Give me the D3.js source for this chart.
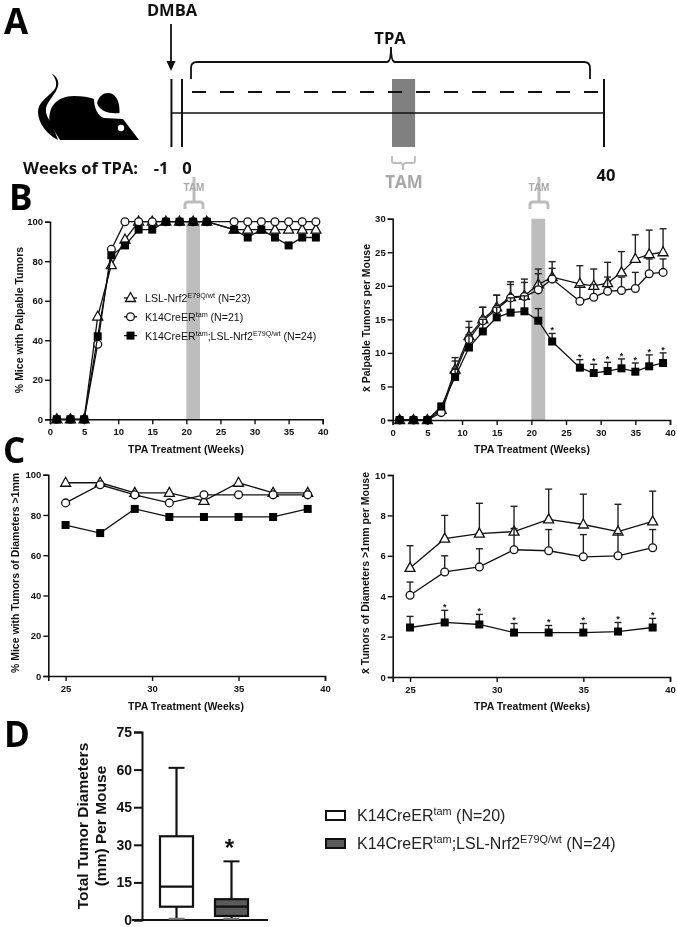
<!DOCTYPE html>
<html><head><meta charset="utf-8">
<style>
html,body{margin:0;padding:0;background:#fff}
svg{display:block;filter:blur(0.3px)}
text{font-family:"Liberation Sans",Arial,sans-serif;fill:#111}
</style>
<script src="https://cdn.jsdelivr.net/npm/d3@7"></script>
</head><body><svg id="c" width="677" height="927"></svg>
<script>
const weeksB=[1,3,5,7,9,11,13,15,17,19,21,23,27,29,31,33,35,37,39];
const weeksC=[25,27,29,31,33,35,37,39];
const pctTri=[0,0,0,52,78,91,100,100,100,100,100,100,96,96,96,96,96,96,96];
const pctCirc=[0,0,0,38,86,100,100,100,100,100,100,100,100,100,100,100,100,100,100];
const pctSq=[0,0,0,42,83,88,96,96,100,100,100,100,96,92,96,92,88,92,92];
const numTri=[0,0,0,1.5,7.5,12.5,15,16.8,18.3,18.5,20.2,21.3,20.3,20,20.4,22,24,24.7,25];
const numTriUp=[0,0,0,1.8,9.3,14.7,16.8,18.6,20.6,21,22.5,23.6,23,22.5,23.5,25.1,27.6,28.3,28.5];
const numCirc=[0,0,0,1.1,7,12,14.8,16.5,18.2,18.4,19.4,21,17.7,18.3,19.2,19.3,19.6,21.8,22];
const numCircUp=[0,0,0,1.3,8.8,13.8,16.8,18.6,20.2,20.5,21.8,22.6,20,20.2,21.3,21.3,22,24,24];
const numSq=[0,0,0,2,6.4,10.8,13.2,15.3,16,16.2,14.8,11.7,7.8,7,7.3,7.7,7.2,8,8.5];
const numSqUp=[0,0,0,2.5,7.7,12.7,15,16.8,18.2,18.5,16.6,12.9,9,8.3,8.6,9.1,8.5,9.7,10];
const numStarWeeks=[23,27,29,31,33,35,37,39];
const largePctTri=[96,96,91,91,87,96,91,91];
const largePctCirc=[86,95,90,86,90,90,90,90];
const largePctSq=[75,71,83,79,79,79,79,83];
const largeTri=[5.4,6.85,7.1,7.2,7.8,7.55,7.2,7.7];
const largeTriUp=[6.5,8,8.6,8.45,9.3,9.05,8.55,9.2];
const largeCirc=[4.05,5.2,5.45,6.3,6.25,5.95,6,6.4];
const largeCircUp=[4.7,6,6.35,7.35,7.3,7.05,7.1,7.3];
const largeSq=[2.45,2.7,2.6,2.2,2.2,2.2,2.25,2.45];
const largeSqUp=[3,3.3,3.1,2.65,2.55,2.65,2.7,2.9];
const largeStarWeeks=[27,29,31,33,35,37,39];
const tamWeeks=[20,22];
const timelineWeeks=[-1,0,40];
const boxStats=[
 {lo:0.5,q1:5.3,med:13.3,q3:33.4,hi:60.7},
 {lo:0.5,q1:1.6,med:5.3,q3:8.3,hi:23.4}];
const boxFill=["#fff","#5a5a5a"];
const boxLegend=[["K14CreER","tam"," (N=20)"],["K14CreER","tam",";LSL-Nrf2","E79Q/wt"," (N=24)"]];
const lineLegend=[
 {k:"tri",parts:["LSL-Nrf2","E79Q/wt"," (N=23)"]},
 {k:"circ",parts:["K14CreER","tam"," (N=21)"]},
 {k:"sq",parts:["K14CreER","tam",";LSL-Nrf2","E79Q/wt"," (N=24)"]}];

const svg=d3.select("#c");
const GREY="#bdbdbd";
function rich(sel,parts,size){ // odd indices are superscripts
  parts.forEach((p,i)=>{
    const sup=i%2===1;
    sel.append("tspan").text(p).attr("font-size",sup?size*0.68:size).attr("dy",sup?-size*0.38:(i?size*0.38:0));
  });
}
function marker(g,k,x,y){
  if(k==="tri") g.append("path").attr("d",`M${x},${y-5.5}L${x+5},${y+3.5}L${x-5},${y+3.5}Z`).attr("fill","#fff").attr("stroke","#111").attr("stroke-width",1.3);
  if(k==="circ") g.append("circle").attr("cx",x).attr("cy",y).attr("r",3.9).attr("fill","#fff").attr("stroke","#111").attr("stroke-width",1.3);
  if(k==="sq") g.append("rect").attr("x",x-4).attr("y",y-4).attr("width",8).attr("height",8).attr("fill","#000");
}
function panel(o){
  const x=d3.scaleLinear().domain(o.xd).range(o.xr), y=d3.scaleLinear().domain(o.yd).range(o.yr);
  const g=svg.append("g");
  if(o.band) g.append("rect").attr("x",x(tamWeeks[0])).attr("width",x(tamWeeks[1])-x(tamWeeks[0]))
     .attr("y",y(o.yd[1])).attr("height",y(0)-y(o.yd[1])).attr("fill",GREY);
  const ax=g.append("g").attr("transform",`translate(0,${y(0)})`).call(d3.axisBottom(x).tickValues(o.xt).tickSize(5).tickPadding(4).tickFormat(d3.format("d")));
  const ay=g.append("g").attr("transform",`translate(${o.xr[0]},0)`).call(d3.axisLeft(y).tickValues(o.yt).tickSize(5).tickPadding(2).tickFormat(d3.format("d")));
  [ax,ay].forEach(a=>{a.selectAll("path").attr("stroke","#111").attr("stroke-width",1.6);a.selectAll("line").attr("stroke","#111").attr("stroke-width",1.4);
    a.selectAll("text").attr("font-family",'"Liberation Sans"').attr("font-size",9.5).attr("font-weight","bold").attr("fill","#222");});
  o.series.forEach(s=>{
    const pts=o.weeks.map((w,i)=>({w,v:s.v[i],u:s.u?s.u[i]:null}));
    if(s.u) pts.filter(d=>d.u>d.v).forEach(d=>{
      g.append("line").attr("x1",x(d.w)).attr("x2",x(d.w)).attr("y1",y(d.v)).attr("y2",y(d.u)).attr("stroke","#222").attr("stroke-width",1.4);
      g.append("line").attr("x1",x(d.w)-3.5).attr("x2",x(d.w)+3.5).attr("y1",y(d.u)).attr("y2",y(d.u)).attr("stroke","#222").attr("stroke-width",1.4);
    });
    g.append("path").attr("d",d3.line().x(d=>x(d.w)).y(d=>y(d.v))(pts)).attr("fill","none").attr("stroke","#111").attr("stroke-width",1.3);
    pts.forEach(d=>marker(g,s.k,x(d.w),y(d.v)));
    if(s.stars) s.stars.forEach(w=>{
      const i=o.weeks.indexOf(w);
      g.append("text").attr("x",x(w)).attr("y",y(s.u[i])).attr("text-anchor","middle").attr("font-size",9).attr("font-weight","bold").text("*");
    });
  });
  g.append("text").attr("x",o.xtitle[0]).attr("y",o.xtitle[1]).attr("text-anchor","middle").attr("font-size",10.5).attr("font-weight","bold").attr("fill","#222").text("TPA Treatment (Weeks)");
  g.append("text").attr("transform",`translate(${o.ytitle[0]},${o.ytitle[1]}) rotate(-90)`).attr("text-anchor","middle").attr("font-size",10.5).attr("font-weight","bold").attr("fill","#222").text(o.ytext);
  return {x,y,g};
}
const xB=[0,5,10,15,20,25,30,35,40], xC=[25,30,35,40];
panel({xd:[0,40],xr:[50,322.7],yd:[0,100],yr:[419.3,221.7],xt:xB,yt:[0,20,40,60,80,100],weeks:weeksB,band:true,
  series:[{k:"tri",v:pctTri},{k:"circ",v:pctCirc},{k:"sq",v:pctSq}],
  xtitle:[186,453],ytitle:[23,320],ytext:"% Mice with Palpable Tumors"});
panel({xd:[0,40],xr:[392.7,670],yd:[0,30],yr:[420,218.7],xt:xB,yt:[0,5,10,15,20,25,30],weeks:weeksB,band:true,
  series:[{k:"tri",v:numTri,u:numTriUp},{k:"circ",v:numCirc,u:numCircUp},{k:"sq",v:numSq,u:numSqUp,stars:numStarWeeks}],
  xtitle:[532,453],ytitle:[370,318],ytext:"x̄ Palpable Tumors per Mouse"});
panel({xd:[24,40],xr:[48.3,325],yd:[0,100],yr:[676,474.7],xt:xC,yt:[0,20,40,60,80,100],weeks:weeksC,
  series:[{k:"tri",v:largePctTri},{k:"circ",v:largePctCirc},{k:"sq",v:largePctSq}],
  xtitle:[186,710],ytitle:[19,573],ytext:"% Mice with Tumors of Diameters >1mm"});
panel({xd:[24,40],xr:[392.7,670],yd:[0,10],yr:[677,475],xt:xC,yt:[0,2,4,6,8,10],weeks:weeksC,
  series:[{k:"tri",v:largeTri,u:largeTriUp},{k:"circ",v:largeCirc,u:largeCircUp},{k:"sq",v:largeSq,u:largeSqUp,stars:largeStarWeeks}],
  xtitle:[532,710],ytitle:[369,573],ytext:"x̄ Tumors of Diameters >1mm per Mouse"});

// line legend
lineLegend.forEach((l,i)=>{
  const yy=298+i*18.8;
  svg.append("line").attr("x1",124).attr("x2",137).attr("y1",yy).attr("y2",yy).attr("stroke","#111").attr("stroke-width",1.3);
  marker(svg,l.k,130.5,yy);
  rich(svg.append("text").attr("x",145).attr("y",yy+4).attr("fill","#222"),l.parts,10.6);
});

// small TAM marks above panel B
[194,539].forEach(cx=>{
  const h=svg.append("g");
  h.append("path").attr("d",`M${cx},177V202M${cx-9},209V205Q${cx-9},202 ${cx-6},202H${cx+6}Q${cx+9},202 ${cx+9},205V209`).attr("fill","none").attr("stroke",GREY).attr("stroke-width",3);
  h.append("text").attr("x",cx).attr("y",191).attr("text-anchor","middle").attr("font-size",10).attr("font-weight","bold").attr("style",`fill:#a8a8a8`).text("TAM");
});

// Panel A: schematic on a weeks scale
const tw=d3.scaleLinear().domain([0,40]).range([182,604]);
const A=svg.append("g");
const sFont='"Open Sans"';
function aText(x,y,t,size,anchor,col){return A.append("text").attr("x",x).attr("y",y).attr("text-anchor",anchor||"middle").attr("font-size",size).attr("font-weight",700).attr("style",`font-family:${sFont};fill:${col||"#111"}`).text(t);}
A.append("rect").attr("x",tw(tamWeeks[0])-1).attr("width",tw(tamWeeks[1])-tw(tamWeeks[0])+2).attr("y",79).attr("height",68).attr("fill","#808080");
timelineWeeks.forEach(w=>A.append("line").attr("x1",tw(w)).attr("x2",tw(w)).attr("y1",79).attr("y2",147).attr("stroke","#111").attr("stroke-width",2));
A.append("line").attr("x1",tw(-1)).attr("x2",tw(40)).attr("y1",113).attr("y2",113).attr("stroke","#111").attr("stroke-width",1.6);
A.append("line").attr("x1",192).attr("x2",598).attr("y1",92).attr("y2",92).attr("stroke","#111").attr("stroke-width",2).attr("stroke-dasharray","14 14");
A.append("path").attr("d","M171,24V62").attr("stroke","#111").attr("stroke-width",1.8);
A.append("path").attr("d","M166.5,61H175.5L171,71Z").attr("fill","#111");
A.append("path").attr("d","M191,79V68Q191,62 197,62H387Q391,62 391,47Q391,62 395,62H584Q590,62 590,68V79").attr("fill","none").attr("stroke","#111").attr("stroke-width",1.8);
A.append("path").attr("d","M392,156V161Q392,163 394,163H401Q403,163 403,170Q403,163 405,163H413Q415,163 415,161V156").attr("fill","none").attr("stroke",GREY).attr("stroke-width",1.8);
aText(172,16,"DMBA",16.5);
aText(390,44,"TPA",16.5);
aText(23,174,"Weeks of TPA:",16.5,"start");
aText(161,174,"-1",16.5);
aText(187,174,"0",16.5);
aText(606,181,"40",16.5);
aText(404,188,"TAM",17,"middle","#a8a8a8");
// mouse silhouette
A.append("path").attr("d","M52,74C56,78 58,86 54,90C48,97 38,102 38,112C38,122 46,134 58,140L52,124C46,116 44,110 48,103C53,95 60,88 58,81C57,78 55,75 52,74Z").attr("fill","#000");
A.append("path").attr("d","M50,124C47,108 56,96 74,96C82,96 89,97 94,99C94,108 98,116 104,118L123,119L139,140H60Z").attr("fill","#000");
A.append("path").attr("d","M97,103C99,96 103,93 108,93C115,93 120,100 119.5,113C110,114 100,112 97,103Z").attr("fill","#000");
A.append("circle").attr("cx",121).attr("cy",128).attr("r",3.2).attr("fill","#fff");

// Panel letters
[["A",4,34],["B",9,210],["C",3,463],["D",4,747]].forEach(d=>{
  svg.append("text").attr("x",d[1]).attr("y",d[2]).attr("font-size",35).attr("font-weight","bold").attr("style",`font-family:"Open Sans";fill:#000`).text(d[0]);
});

// Panel D
const dy=d3.scaleLinear().domain([0,75]).range([920,732]);
const dx=d3.scaleBand().domain([0,1]).range([160,248]).paddingInner(0.4).paddingOuter(0);
const D=svg.append("g");
const ayD=D.append("g").attr("transform","translate(142,0)").call(d3.axisLeft(dy).tickValues([0,15,30,45,60,75]).tickSize(8).tickPadding(2));
ayD.selectAll("path").attr("stroke","#111").attr("stroke-width",2);
ayD.selectAll("line").attr("stroke","#111").attr("stroke-width",2);
ayD.selectAll("text").attr("font-size",14).attr("font-weight","bold").attr("style",'font-family:"Liberation Sans Narrow","Liberation Sans";fill:#111');
D.append("line").attr("x1",132).attr("x2",268).attr("y1",dy(0)).attr("y2",dy(0)).attr("stroke","#111").attr("stroke-width",2.2);
boxStats.forEach((b,i)=>{
  const w=dx.bandwidth(), l=dx(i), c=l+w/2;
  D.append("line").attr("x1",c).attr("x2",c).attr("y1",dy(b.lo)).attr("y2",dy(b.hi)).attr("stroke","#111").attr("stroke-width",2.2);
  [b.lo,b.hi].forEach((v,j)=>D.append("line").attr("x1",c-8).attr("x2",c+8).attr("y1",dy(v)).attr("y2",dy(v)).attr("stroke",j?"#111":"#777").attr("stroke-width",2));
  D.append("rect").attr("x",l).attr("width",w).attr("y",dy(b.q3)).attr("height",dy(b.q1)-dy(b.q3)).attr("fill",boxFill[i]).attr("stroke","#111").attr("stroke-width",2.2);
  D.append("line").attr("x1",l).attr("x2",l+w).attr("y1",dy(b.med)).attr("y2",dy(b.med)).attr("stroke","#111").attr("stroke-width",2.2);
});
D.append("text").attr("x",dx(1)+dx.bandwidth()/2-2).attr("y",dy(30)+11).attr("text-anchor","middle").attr("font-size",24).attr("font-weight","bold").text("*");
["Total Tumor Diameters","(mm) Per Mouse"].forEach((t,i)=>{
  D.append("text").attr("transform",`translate(${88+i*18},826) rotate(-90)`).attr("text-anchor","middle").attr("font-size",15.5).attr("font-weight","bold").attr("fill","#111").text(t);
});
boxLegend.forEach((parts,i)=>{
  const yy=815+i*28;
  D.append("rect").attr("x",326).attr("y",yy-4).attr("width",19).attr("height",9).attr("fill",boxFill[i]).attr("stroke","#111").attr("stroke-width",2);
  rich(D.append("text").attr("x",357).attr("y",yy+6).attr("style",'font-family:"Liberation Sans Narrow","Liberation Sans";fill:#222'),parts,16);
});
</script></body></html>
